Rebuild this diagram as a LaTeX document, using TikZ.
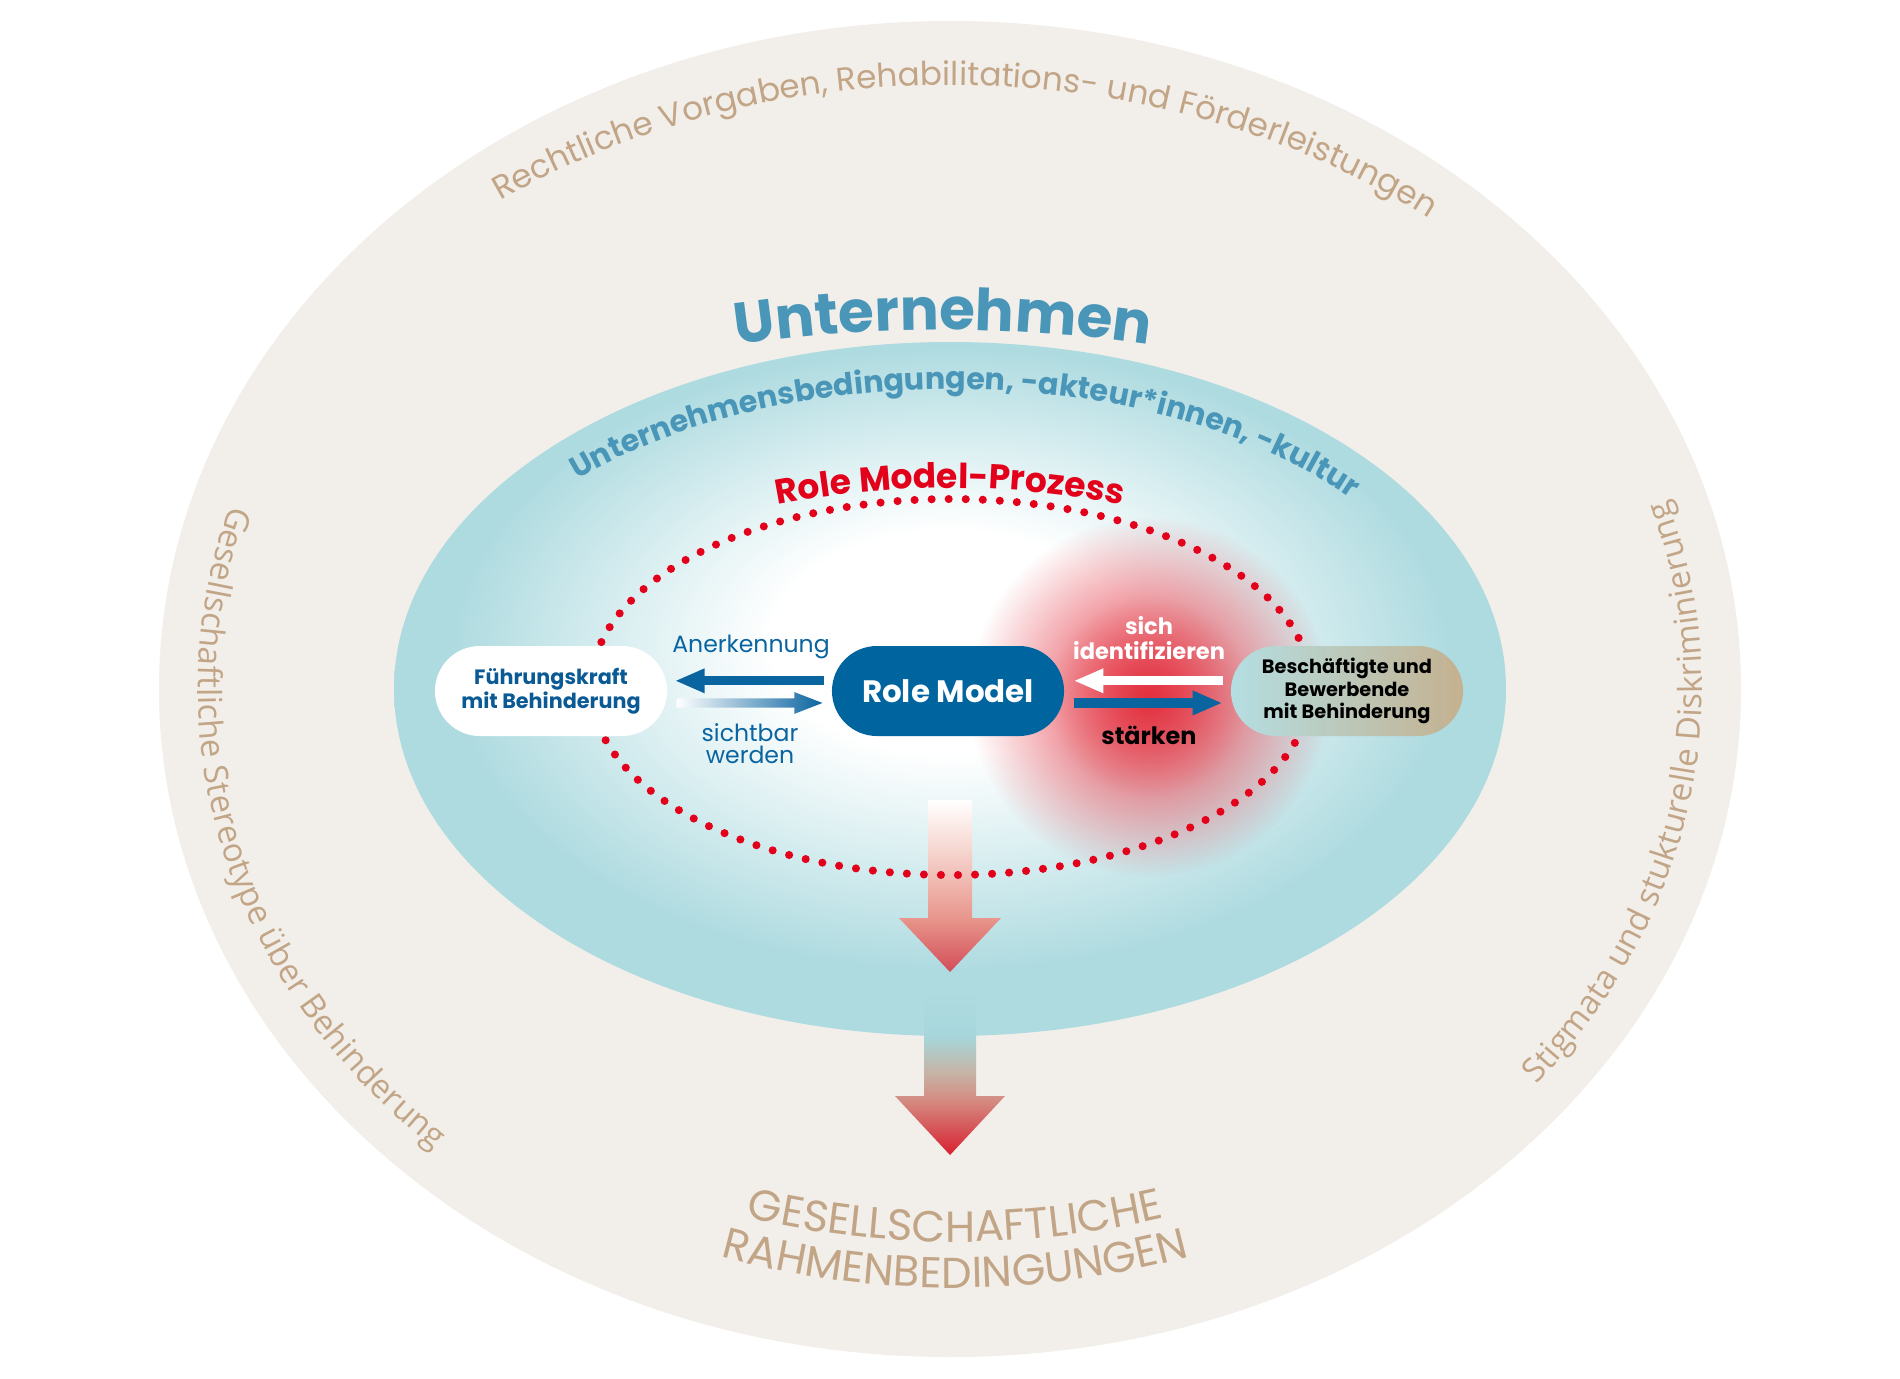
\documentclass[tikz,border=0pt]{standalone}
\usepackage{fontspec}
\setmainfont{Poppins}
\newfontfamily\opensans{Open Sans}
\newfontfamily\popspaced{Poppins}[LetterSpace=7]
\usetikzlibrary{arrows.meta, decorations.text, fadings, calc}

\definecolor{outerbg}{RGB}{242,239,234}
\definecolor{beige}{RGB}{194,165,134}
\definecolor{ellblue}{RGB}{174,219,224}
\definecolor{untblue}{RGB}{74,150,185}
\definecolor{procred}{RGB}{226,0,26}
\definecolor{rmblue}{RGB}{0,100,159}
\definecolor{arrowblue}{RGB}{10,100,160}
\definecolor{fkblue}{RGB}{10,90,149}
\definecolor{glowred}{RGB}{227,48,62}
\definecolor{bwleft}{RGB}{180,222,226}
\definecolor{bwright}{RGB}{196,177,143}
\definecolor{aoneA}{RGB}{255,255,255}
\definecolor{aoneB}{RGB}{246,214,208}
\definecolor{aoneC}{RGB}{232,150,140}
\definecolor{aoneD}{RGB}{210,76,88}
\definecolor{atwoA}{RGB}{174,219,224}
\definecolor{atwoB}{RGB}{166,214,219}
\definecolor{atwoC}{RGB}{198,180,166}
\definecolor{atwoD}{RGB}{212,140,130}
\definecolor{atwoE}{RGB}{216,32,48}

\pgfdeclareradialshading{blueell}{\pgfpoint{0bp}{4bp}}{%
  color(0bp)=(white); color(8bp)=(white);
  color(14bp)=(ellblue!40!white); color(19bp)=(ellblue!75!white);
  color(22.5bp)=(ellblue); color(25bp)=(ellblue); color(50bp)=(ellblue)}
\pgfdeclareverticalshading{arrowone}{100bp}{%
  color(0bp)=(aoneD); color(25bp)=(aoneD); color(40.7bp)=(aoneC);
  color(60.5bp)=(aoneB); color(75bp)=(aoneA); color(100bp)=(aoneA)}
\pgfdeclareverticalshading{arrowtwo}{100bp}{%
  color(0bp)=(atwoE); color(25bp)=(atwoE); color(41.7bp)=(atwoD);
  color(50bp)=(atwoC); color(61bp)=(atwoB); color(75bp)=(atwoA); color(100bp)=(atwoA)}
\tikzfading[name=glowfade, inner color=transparent!0, outer color=transparent!100]

\begin{document}
\begin{tikzpicture}[x=0.01cm, y=0.01cm,
  pill/.style={rounded corners=12.8pt, minimum width=66pt, minimum height=25.6pt,
    inner sep=0pt, align=center},
  rmnode/.style={pill, fill=rmblue, text=white, font=\bfseries\fontsize{8.8}{10}\selectfont},
  fknode/.style={pill, fill=white, text=fkblue, font=\bfseries\fontsize{5.9}{6.9}\selectfont},
  bwnode/.style={pill, left color=bwleft, right color=bwright, text=black,
    font=\bfseries\fontsize{5.5}{6.4}\selectfont},
  conn/.style={line width=2.6pt, -{Triangle[length=8.5pt,width=6.4pt]}},
  lbl/.style={inner sep=0pt, align=center}
]
\useasboundingbox (0,0) rectangle (1900,-1378);
\fill[white] (0,0) rectangle (1900,-1378);
\fill[outerbg] (950,-689) ellipse [x radius=791, y radius=668];
\shade[shading=blueell] (950,-689) ellipse [x radius=556, y radius=347];

% glow
\fill[glowred, path fading=glowfade] (1149,-697) circle [radius=180];
\fill[glowred, path fading=glowfade, fill opacity=0.5] (1149,-697) circle [radius=100];

% first down arrow
\shade[shading=arrowone] (928,-800) -- (972,-800) -- (972,-918) -- (1001,-918)
  -- (950,-972) -- (899,-918) -- (928,-918) -- cycle;

% dotted process ellipse
\draw[procred, line width=2.3pt, line cap=round, dash pattern=on 0pt off 4.85pt]
  (951,-687) ellipse [x radius=360, y radius=188];

% second down arrow
\shade[shading=arrowtwo] (924,-990) -- (976,-990) -- (976,-1096) -- (1005,-1096)
  -- (950,-1155) -- (895,-1096) -- (924,-1096) -- cycle;

% nodes
\node[rmnode] (rm) at (948,-691) {Role Model};
\node[fknode] (fk) at (551,-691) {Führungskraft\\mit Behinderung};
\node[bwnode] (bw) at (1347,-691) {Beschäftigte und\\Bewerbende\\mit Behinderung};

% connectors
\draw[conn, arrowblue, shorten <=2pt, shorten >=2pt]
  ([yshift=2.9pt]rm.west) -- ([yshift=2.9pt]fk.east);
\coordinate (sws) at ([shift={(2.5pt,-3.4pt)}]fk.east);
\coordinate (swe) at ([shift={(-2.5pt,-3.4pt)}]rm.west);
\shade[left color=white, right color=arrowblue]
  ($(sws)+(0pt,1.3pt)$) -- ($(swe)+(-8pt,1.3pt)$) -- ($(swe)+(-8pt,3.1pt)$) -- (swe)
  -- ($(swe)+(-8pt,-3.1pt)$) -- ($(swe)+(-8pt,-1.3pt)$) -- ($(sws)+(0pt,-1.3pt)$) -- cycle;
\draw[conn, white, shorten <=2.2pt, shorten >=2.5pt]
  ([yshift=2.9pt]bw.west) -- ([yshift=2.9pt]rm.east);
\draw[conn, arrowblue, shorten <=2.5pt, shorten >=2.2pt]
  ([yshift=-3.4pt]rm.east) -- ([yshift=-3.4pt]bw.west);

% labels
\node[lbl, text=arrowblue, font=\fontsize{6.7}{7}\selectfont] (ank) at (751,-647) {Anerkennung};
\node[lbl, text=arrowblue, font=\fontsize{6.7}{6.3}\selectfont] (sw) at (750,-744) {sichtbar\\werden};
\node[lbl, text=white, font=\bfseries\fontsize{6.4}{7.2}\selectfont] (si) at (1149,-638) {sich\\identifizieren};
\node[lbl, text=black, font=\bfseries\fontsize{6.8}{7}\selectfont] (st) at (1149,-735) {stärken};

% curved texts
\path[decorate, decoration={text along path, text align=center, text color=beige,
  text={|\fontsize{9.3}{10}\selectfont|Rechtliche Vorgaben, Rehabilitations- und Förderleistungen}}]
  ([shift={(950,-689)}]145:763 and 604) arc [start angle=145, end angle=32, x radius=763, y radius=604];

\path[decorate, decoration={text along path, text align=center, text color=untblue,
  text={|\bfseries\fontsize{16.5}{20}\selectfont|Unternehmen}}]
  ([shift={(943,-1780)}]105:1450) arc [start angle=105, end angle=75, radius=1450];

\path[decorate, decoration={text along path, text align=center, text color=untblue,
  text={|\bfseries\fontsize{8.6}{10}\selectfont|Unternehmensbedingungen, -akteur*innen, -kultur}}]
  ([shift={(950,-689)}]150:520 and 300) arc [start angle=150, end angle=24.5, x radius=520, y radius=300];

\path[decorate, decoration={text along path, text align=center, text color=procred,
  text={|\bfseries\fontsize{9.8}{11}\selectfont|Role Model-Prozess}}]
  ([shift={(950,-1394)}]106:906) arc [start angle=106, end angle=74, radius=906];

\path[decorate, decoration={text along path, text align=center, text color=beige,
  text={|\opensans\fontsize{9.4}{10}\selectfont|Gesellschaftliche Stereotype über Behinderung}}]
  ([shift={(950,-689)}]145:752 and 632) arc [start angle=145, end angle=243.4, x radius=752, y radius=632];

\path[decorate, decoration={text along path, text align=center, text color=beige,
  text={|\opensans\fontsize{9.4}{10}\selectfont|Stigmata und stukturelle Diskriminierung}}]
  ([shift={(950,-689)}]-60:752 and 632) arc [start angle=-60, end angle=40, x radius=752, y radius=632];

\path[decorate, decoration={text along path, text align=center, text color=beige,
  text={|\popspaced\fontsize{12.4}{13}\selectfont|GESELLSCHAFTLICHE}}]
  ([shift={(955,-329)}]235:913) arc [start angle=235, end angle=305, radius=913];
\path[decorate, decoration={text along path, text align=center, text color=beige,
  text={|\popspaced\fontsize{12.3}{13}\selectfont|RAHMENBEDINGUNGEN}}]
  ([shift={(955,-397)}]235:891) arc [start angle=235, end angle=305, radius=891];
\end{tikzpicture}
\end{document}
